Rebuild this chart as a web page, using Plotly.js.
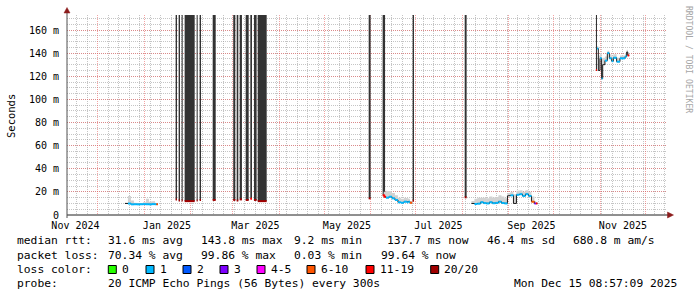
<!DOCTYPE html>
<html><head><meta charset="utf-8">
<script src="https://cdn.plot.ly/plotly-3.0.1.min.js"></script>
<style>html,body{margin:0;padding:0;background:#fff}#chart{width:697px;height:297px}</style>
</head><body><div id="chart"></div>
<script>
// ---------- time window & axes ----------
const rangeStart = '2024-11-10 08:57:09';
const rangeEnd = '2025-12-15 08:57:09';
const yMax = 172.97;
const majorGridStart = '2024-12-01';
const minorGridStart = '2024-11-17';
const xLabelDates = ['2024-11-16','2025-01-16','2025-03-16','2025-05-16','2025-07-16','2025-09-16','2025-11-16'];
const xLabelText = ['Nov 2024','Jan 2025','Mar 2025','May 2025','Jul 2025','Sep 2025','Nov 2025'];
const yTickVals = [0,20,40,60,80,100,120,140,160];
const yTickText = ['0','20 m','40 m','60 m','80 m','100 m','120 m','140 m','160 m'];

// ---------- loss colours ----------
const lossLabels = ['0','1','2','3','4-5','6-10','11-19','20/20'];
const lossColors = ['#26ff00','#00b8ff','#0059ff','#7e00ff','#ff00ff','#ff5500','#ff0000','#a00000'];

// ---------- heavy-loss periods (dark smoke to the top) ----------
const lossStart = ['2025-01-21 19:00','2025-01-23 19:00','2025-01-25 19:00','2025-01-27 19:00','2025-02-04 19:00','2025-02-06 19:00','2025-02-15 12:00',
  '2025-03-01 05:00','2025-03-03 12:00','2025-03-05 12:00','2025-03-09 12:00','2025-03-12 14:00','2025-03-15 00:00','2025-03-17 12:00',
  '2025-05-30 12:00','2025-06-08 19:00','2025-06-28 19:00','2025-08-02 12:00','2025-10-29 00:00'];
const lossEnd = ['2025-01-22 17:00','2025-01-24 17:00','2025-01-26 12:00','2025-02-03 12:00','2025-02-05 12:00','2025-02-07 17:00','2025-02-17 12:00',
  '2025-03-02 14:00','2025-03-04 14:00','2025-03-07 00:00','2025-03-11 12:00','2025-03-13 17:00','2025-03-16 19:00','2025-03-23 12:00',
  '2025-05-31 19:00','2025-06-10 10:00','2025-06-29 17:00','2025-08-03 19:00','2025-10-29 17:00'];
const lossFloor = [13.5,12.5,12.5,12,12.5,13,13,13,12.5,13.5,13,14,13,12,14.4,17,12.4,15.3,125.5];
const lossFloorCat = [7,7,7,7,7,7,7,7,7,7,7,6,7,7,7,6,7,7,6];

// ---------- median rtt segments (last date = end of segment) ----------
const segA_dates = ['2024-12-19','2024-12-21','2024-12-23','2024-12-25','2024-12-27','2024-12-29','2024-12-31','2025-01-02','2025-01-04','2025-01-06','2025-01-08','2025-01-09','2025-01-10'];
const segA_med   = [10.0,9.9,9.2,9.3,9.2,9.3,9.4,9.3,9.2,9.4,9.3,9.3,9.3];
const segA_max   = [10.6,16.5,12.5,10.5,10.2,10.2,11,14,11.5,12,10.5,10.2,10.2];
const segA_loss  = [null,1,1,1,1,1,1,1,1,1,1,5,null];

const segB_dates = ['2025-06-09 12:00','2025-06-11','2025-06-13','2025-06-15','2025-06-17','2025-06-19','2025-06-21','2025-06-23','2025-06-25','2025-06-26','2025-06-27','2025-06-28 12:00'];
const segB_med   = [15.8,15.0,15.8,14.4,13.0,11.0,10.6,11.5,11.0,11.5,10.6,10.6];
const segB_max   = [20,21,20.5,19,17,15,14,15,14.5,14,12,12];
const segB_loss  = [6,1,1,1,1,1,1,1,1,1,5,null];

const segC_dates = ['2025-08-07','2025-08-09','2025-08-11','2025-08-13','2025-08-15','2025-08-17','2025-08-19','2025-08-21','2025-08-23','2025-08-25','2025-08-27','2025-08-29',
  '2025-08-31','2025-09-02','2025-09-04','2025-09-06','2025-09-08','2025-09-10','2025-09-12','2025-09-14','2025-09-16','2025-09-18','2025-09-19','2025-09-20'];
const segC_med   = [10.0,9.5,9.8,11.0,10.3,10.0,11.0,10.2,10.5,11.5,10.4,10.0,16.5,17.0,10.0,17.5,18.0,16.5,18.0,16.5,11.5,10.0,10.0,10.0];
const segC_max   = [12,14,15,15.5,15,14.5,16,15,15.5,17,16,14.5,19,20,18,21,21.5,20,21.5,20,16,12,11,11];
const segC_loss  = [null,1,1,1,1,1,1,1,1,1,1,1,null,1,null,1,1,1,1,1,5,3,6,null];

const segD_dates = ['2025-10-29 17:00','2025-10-30 14:00','2025-10-31 17:00','2025-11-01 19:00','2025-11-02 12:00','2025-11-04 00:00','2025-11-05 14:00','2025-11-06 22:00',
  '2025-11-08 12:00','2025-11-09 14:00','2025-11-11 19:00','2025-11-14 00:00','2025-11-17 10:00','2025-11-18 12:00','2025-11-19 05:00','2025-11-20 05:00'];
const segD_med   = [144,125,135.5,118,130,133.5,140,135.5,133,136,132.6,135.5,137,141,138,138];
const segD_max   = [146,138,140,130,136,137,142,139,137,139,136,138,140,143,140,140];
const segD_loss  = [1,null,1,1,null,1,1,1,1,1,1,1,1,null,6,null];

// ---------- legend texts ----------
const rttLabel = 'median rtt:';
const rttStats = ['31.6 ms avg','143.8 ms max','9.2 ms min','137.7 ms now','46.4 ms sd','680.8 m am/s'];
const plLabel = 'packet loss:';
const plStats = ['70.34 % avg','99.86 % max','0.03 % min','99.64 % now'];
const lcLabel = 'loss color:';
const probeLabel = 'probe:';
const probeText = '20 ICMP Echo Pings (56 Bytes) every 300s';
const stampText = 'Mon Dec 15 08:57:09 2025';
const yTitle = 'Seconds';
const watermark = 'RRDTOOL / TOBI OETIKER';

// ================= build =================
const MONO = 'DejaVu Sans Mono';
const PL = 67, PT = 15, PW = 600, PH = 200;
const px = x => (x - PL) / PW;
const py = y => (PT + PH - y) / PH;
function toMs(s){ const t = s.length <= 10 ? s + 'T00:00:00Z' : s.replace(' ', 'T') + ':00Z'; return Date.parse(t); }
function toStr(ms){ return new Date(ms).toISOString().slice(0,19).replace('T',' '); }

const segs = [
  [segA_dates, segA_med, segA_max, segA_loss],
  [segB_dates, segB_med, segB_max, segB_loss],
  [segC_dates, segC_med, segC_max, segC_loss],
  [segD_dates, segD_med, segD_max, segD_loss]
];

const traces = [];

// smoke
const smX = [], smY = [];
segs.forEach(([d, m, mx]) => {
  const n = d.length;
  for (let i = 0; i < n - 1; i++) { smX.push(d[i], d[i+1]); smY.push(mx[i], mx[i]); }
  for (let i = n - 2; i >= 0; i--) { smX.push(d[i+1], d[i]); smY.push(m[i], m[i]); }
  smX.push(null); smY.push(null);
});
traces.push({type:'scatter', mode:'lines', x:smX, y:smY, fill:'toself', fillcolor:'#d2d2d2', line:{width:0}, hoverinfo:'skip'});

// heavy loss bars
const bx = [], bw = [], bbase = [], bh = [];
lossStart.forEach((s, i) => {
  const a = toMs(s), b = toMs(lossEnd[i]);
  bx.push(toStr((a + b) / 2)); bw.push(b - a); bbase.push(lossFloor[i]); bh.push(yMax - lossFloor[i]);
});
traces.push({type:'bar', x:bx, y:bh, base:bbase, width:bw, marker:{color:'#333333', line:{width:0}}, hoverinfo:'skip'});

// black step line for median
const mX = [], mY = [];
segs.forEach(([d, m]) => {
  for (let i = 0; i < d.length - 1; i++) { mX.push(d[i], d[i+1]); mY.push(m[i], m[i]); }
  mX.push(null); mY.push(null);
});
traces.push({type:'scatter', mode:'lines', x:mX, y:mY, line:{color:'#1a1a1a', width:1}, connectgaps:false, hoverinfo:'skip'});

// coloured median segments
lossColors.forEach((col, c) => {
  const x = [], y = [];
  segs.forEach(([d, m, mx, l]) => {
    for (let i = 0; i < d.length - 1; i++) if (l[i] === c) { x.push(d[i], d[i+1], null); y.push(m[i], m[i], null); }
  });
  if (x.length) traces.push({type:'scatter', mode:'lines', x, y, line:{color:col, width:2}, connectgaps:false, hoverinfo:'skip'});
});

// floor marks of heavy loss periods
lossColors.forEach((col, c) => {
  const x = [], y = [];
  lossStart.forEach((s, i) => { if (lossFloorCat[i] === c) { x.push(s, lossEnd[i], null); y.push(lossFloor[i], lossFloor[i], null); } });
  if (x.length) traces.push({type:'scatter', mode:'lines', x, y, line:{color:col, width:2}, hoverinfo:'skip'});
});

// axis-label helper axis
traces.push({type:'scatter', x:[], y:[], xaxis:'x2', yaxis:'y', hoverinfo:'skip'});

// ---------- annotations ----------
const ann = [];
const txt = (s, x, y, opt={}) => ann.push(Object.assign({text:s, x:px(x), y:py(y), xref:'paper', yref:'paper', xanchor:'left', yanchor:'middle', showarrow:false, borderpad:0, font:{family:MONO, size:11.3, color:'#000'}}, opt));
const rowY = [241, 255.5, 269.5, 283.5];
const statX1 = [107.3, 200, 293.3, 386.7, 486.7, 572.7];
const statX2 = [107.3, 200, 293.3, 380];
txt(rttLabel, 16, rowY[0]);
rttStats.forEach((s, i) => txt(s, statX1[i] - 0.5, rowY[0]));
txt(plLabel, 16, rowY[1]);
plStats.forEach((s, i) => txt(s, statX2[i] - 0.5, rowY[1]));
txt(lcLabel, 16, rowY[2]);
const sqX = [108.3, 146, 183, 220, 257, 307, 366, 430.7];
const shapes = [];
lossLabels.forEach((s, i) => {
  shapes.push({type:'rect', xref:'paper', yref:'paper', x0:px(sqX[i]), x1:px(sqX[i]+8), y0:py(273.5), y1:py(265.5), fillcolor:lossColors[i], line:{color:'#000', width:1}, layer:'above'});
  txt(s, sqX[i] + 12.5, rowY[2]);
});
txt(probeLabel, 16, rowY[3]);
txt(probeText, 106.8, rowY[3]);
txt(stampText, 512.8, rowY[3]);
ann.push({text:yTitle, x:px(11), y:py(116), xref:'paper', yref:'paper', xanchor:'center', yanchor:'middle', textangle:-90, showarrow:false, borderpad:0, font:{family:MONO, size:10.5, color:'#000'}});
ann.push({text:watermark, x:px(688.5), y:py(5), xref:'paper', yref:'paper', xanchor:'center', yanchor:'top', textangle:90, showarrow:false, borderpad:0, font:{family:MONO, size:8.1, color:'#a6a6a6'}});

// axes lines and arrows
const axisCol = '#202020', arrowCol = '#8c1c1c';
shapes.push({type:'line', xref:'paper', yref:'paper', x0:px(67), x1:px(669), y0:py(215), y1:py(215), line:{color:axisCol, width:1}, layer:'above'});
shapes.push({type:'line', xref:'paper', yref:'paper', x0:px(67), x1:px(67), y0:py(218), y1:py(12), line:{color:'#505050', width:1}, layer:'above'});
shapes.push({type:'path', xref:'paper', yref:'paper', path:`M ${px(673.5)} ${py(215)} L ${px(667.5)} ${py(212)} L ${px(667.5)} ${py(218)} Z`, fillcolor:arrowCol, line:{color:arrowCol, width:0.5}, layer:'above'});
shapes.push({type:'path', xref:'paper', yref:'paper', path:`M ${px(67)} ${py(7.5)} L ${px(64)} ${py(13)} L ${px(70)} ${py(13)} Z`, fillcolor:arrowCol, line:{color:arrowCol, width:0.5}, layer:'above'});

const minorGrid = 'rgba(150,150,150,0.55)', majorGrid = 'rgba(235,90,90,0.55)';
const layout = {
  width:697, height:297, margin:{l:PL, r:697-PL-PW, t:PT, b:297-PT-PH},
  paper_bgcolor:'#fff', plot_bgcolor:'#fff', showlegend:false, barmode:'overlay',
  font:{family:MONO, size:10, color:'#000'},
  xaxis:{type:'date', range:[rangeStart, rangeEnd], showticklabels:false, ticks:'', tick0:majorGridStart, dtick:'M1',
    showgrid:true, gridcolor:majorGrid, gridwidth:1, griddash:'1px,1px', zeroline:false, showline:false, fixedrange:true,
    minor:{tick0:minorGridStart, dtick:7*86400000, showgrid:true, gridcolor:minorGrid, gridwidth:1, griddash:'1px,1px', ticks:''}},
  xaxis2:{type:'date', range:[rangeStart, rangeEnd], overlaying:'x', anchor:'y', side:'bottom', tickmode:'array', tickvals:xLabelDates, ticktext:xLabelText,
    showgrid:false, ticks:'', ticklabelstandoff:3, zeroline:false, showline:false, tickfont:{family:MONO, size:10, color:'#000'}},
  yaxis:{range:[0, yMax], tickmode:'array', tickvals:yTickVals, ticktext:yTickText, showgrid:true, gridcolor:majorGrid, gridwidth:1, griddash:'1px,1px',
    zeroline:false, showline:false, ticks:'outside', ticklen:5, tickcolor:'rgba(0,0,0,0)', tickfont:{family:MONO, size:10, color:'#000'}, fixedrange:true,
    minor:{tickmode:'linear', tick0:0, dtick:5, showgrid:true, gridcolor:minorGrid, gridwidth:1, griddash:'1px,1px', ticks:''}},
  annotations:ann, shapes
};
Plotly.newPlot('chart', traces, layout, {staticPlot:true, displayModeBar:false});
</script>
</body></html>
